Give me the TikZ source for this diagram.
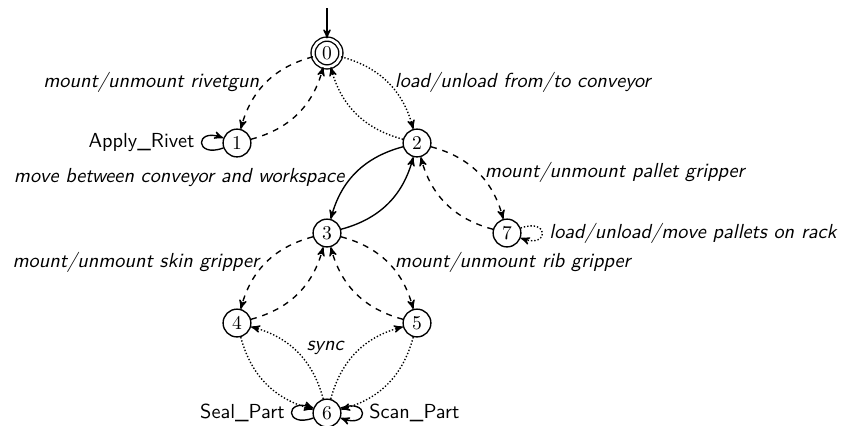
\documentclass[tikz,border=0pt]{standalone}
\usetikzlibrary{arrows}
\begin{document}
\begin{tikzpicture}[x=1.62cm, y=1.62cm, font=\sffamily\fontsize{10.4}{12.5}\selectfont,
  line join=round, >=stealth', line width=0.7pt,
  st/.style={draw, circle, minimum size=0.5cm, inner sep=0pt, font=\rmfamily},
  lab/.style={font=\sffamily\itshape\fontsize{10.4}{12.5}\selectfont},
  dsh/.style={->, dashed},
  dot/.style={->, densely dotted},
  lpleft/.style={loop, out=200, in=160, min distance=5.5mm},
  lpright/.style={loop, out=20, in=-20, min distance=5.5mm}]
\useasboundingbox (-3.633,-0.133) rectangle (5.744,4.589);
% states
\node[st, double, double distance=1.4pt] (s0) at (0,4) {0};
\node[st] (s1) at (-1,3) {1};
\node[st] (s2) at (1,3) {2};
\node[st] (s3) at (0,2) {3};
\node[st] (s7) at (2,2) {7};
\node[st] (s4) at (-1,1) {4};
\node[st] (s5) at (1,1) {5};
\node[st] (s6) at (0,0) {6};
\coordinate (init) at (0,4.5);
\draw[->] (init) -- (s0);
% tool changes
\draw[dsh] (s0) to[bend right=30] node[lab, left] (lrivet) {mount/unmount rivetgun} (s1);
\draw[dsh] (s1) to[bend right=30] (s0);
\draw[dot] (s0) to[bend left=30] node[lab, right] (lconv) {load/unload from/to conveyor} (s2);
\draw[dot] (s2) to[bend left=30] (s0);
\draw[->] (s1) to[lpleft] node[left] (lapply) {Apply\_Rivet} (s1);
\draw[->] (s2) to[bend right=30] node[lab, pos=0.57, left] (lmove) {move between conveyor and workspace} (s3);
\draw[->] (s3) to[bend right=30] (s2);
\draw[dsh] (s2) to[bend left=30] node[lab, pos=0.5, right] (lpallet) {mount/unmount pallet gripper} (s7);
\draw[dsh] (s7) to[bend left=30] (s2);
\draw[dot] (s7) to[lpright] node[lab, right] (lrack) {load/unload/move pallets on rack} (s7);
\draw[dsh] (s3) to[bend right=30] node[lab, left] (lskin) {mount/unmount skin gripper} (s4);
\draw[dsh] (s4) to[bend right=30] (s3);
\draw[dsh] (s3) to[bend left=30] node[lab, right] (lrib) {mount/unmount rib gripper} (s5);
\draw[dsh] (s5) to[bend left=30] (s3);
% synchronisation
\draw[dot] (s4) to[bend right=30] (s6);
\draw[dot] (s6) to[bend right=30] (s4);
\draw[dot] (s5) to[bend left=30] (s6);
\draw[dot] (s6) to[bend left=30] (s5);
\node[lab] (lsync) at (-0.02,0.72) {sync};
\draw[->] (s6) to[lpleft] node[left] (lseal) {Seal\_Part} (s6);
\draw[->] (s6) to[lpright] node[right] (lscan) {Scan\_Part} (s6);
\end{tikzpicture}
\end{document}
